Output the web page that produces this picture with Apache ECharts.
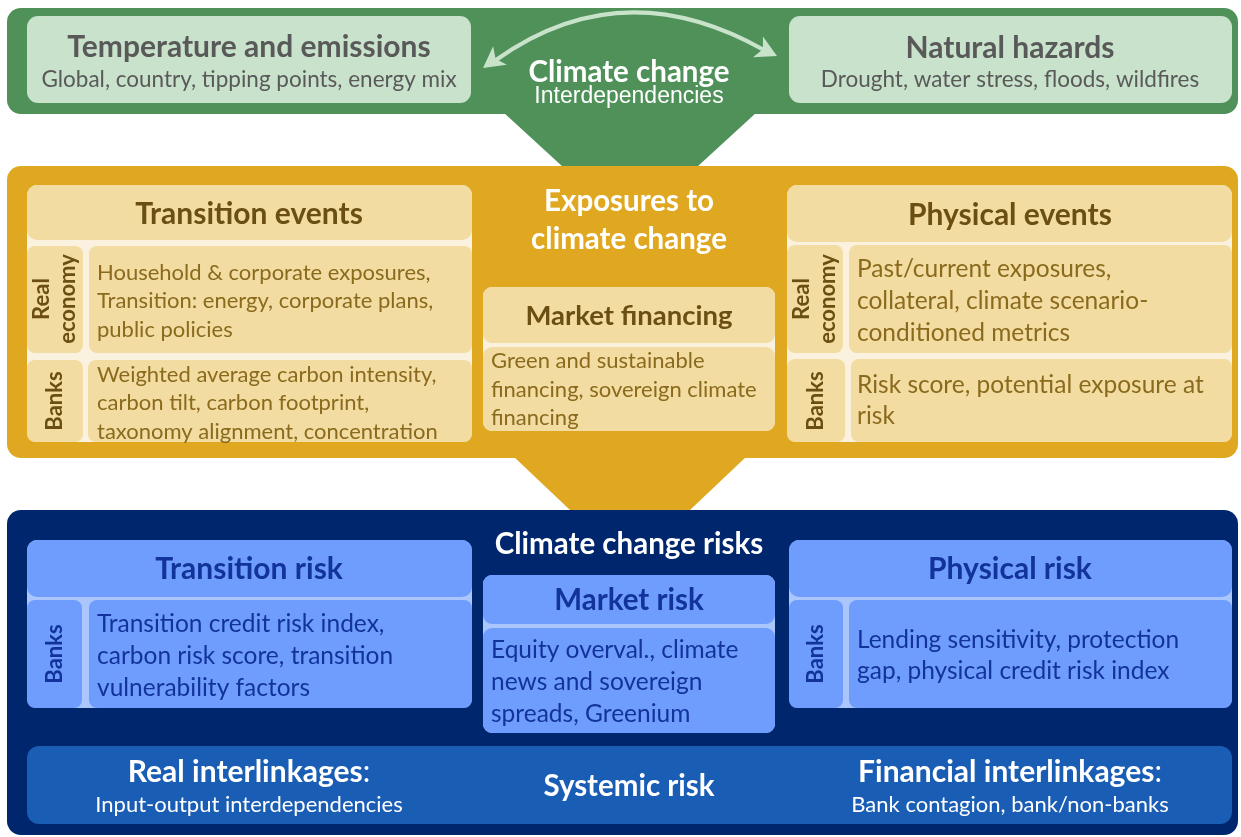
<!DOCTYPE html>
<html><head><meta charset="utf-8">
<script src="https://cdn.jsdelivr.net/npm/echarts@6/dist/echarts.min.js"></script>
<style>html,body{margin:0;padding:0;background:#fff}#c{width:1241px;height:837px}</style>
</head><body><div id="c"></div>
<script>
// ---- content (text only) ----
const driverTitles = ['Temperature and emissions', 'Natural hazards'];
const driverSubtitles = ['Global, country, tipping points, energy mix', 'Drought, water stress, floods, wildfires'];
const hubTitle = 'Climate change';
const hubSubtitle = 'Interdependencies';
const exposureTitle = 'Exposures to\nclimate change';
const eventTitles = ['Transition events', 'Physical events'];
const rowLabels = ['Real\neconomy', 'Banks'];
const transitionEventTexts = [
  'Household & corporate exposures,\nTransition: energy, corporate plans,\npublic policies',
  'Weighted average carbon intensity,\ncarbon tilt, carbon footprint,\ntaxonomy alignment, concentration'
];
const physicalEventTexts = [
  'Past/current exposures,\ncollateral, climate scenario-\nconditioned metrics',
  'Risk score, potential exposure at\nrisk'
];
const marketFinancing = ['Market financing', 'Green and sustainable\nfinancing, sovereign climate\nfinancing'];
const risksTitle = 'Climate change risks';
const riskTitles = ['Transition risk', 'Market risk', 'Physical risk'];
const riskTexts = [
  'Transition credit risk index,\ncarbon risk score, transition\nvulnerability factors',
  'Equity overval., climate\nnews and sovereign\nspreads, Greenium',
  'Lending sensitivity, protection\ngap, physical credit risk index'
];
const linkageTitles = ['Real interlinkages', 'Systemic risk', 'Financial interlinkages'];
const linkageSubtitles = ['Input-output interdependencies', '', 'Bank contagion, bank/non-banks'];

// ---- drawing ----
const FONT = 'Lato, "Open Sans", sans-serif';
const els = [];
function rect(x, y, w, h, r, fill) {
  els.push({type: 'rect', shape: {x, y, width: w, height: h, r}, style: {fill}, silent: true});
}
function poly(points, fill) {
  els.push({type: 'polygon', shape: {points}, style: {fill}, silent: true});
}
function text(x, y, str, size, color, opts) {
  opts = opts || {};
  els.push({
    type: 'text', x, y, rotation: opts.rotation || 0, silent: true,
    style: {
      text: str, fill: color,
      font: (opts.bold ? 'bold ' : '') + size + 'px ' + (opts.family || FONT),
      align: opts.align || 'center', verticalAlign: 'middle',
      textAlign: opts.align || 'center', textVerticalAlign: 'middle',
      lineHeight: opts.lh || Math.round(size * 1.3),
      rich: opts.rich
    }
  });
}

// Palette
const G = '#4f9159', GL = '#c9e2cb', GT = '#595959', GA = '#c8e3c9';
const O = '#e0a820', OL = '#f2dca2', OC = '#faf2df', OT = '#6b4f12', OB = '#8a6a1c';
const B = '#00266e', BL = '#6f9dfd', BC = '#aac6fc', BT = '#12339c', BS = '#1a5db5';

// Top green band
rect(7, 8, 1231, 106, 14, G);
poly([[503, 112], [757, 112], [697, 167], [563, 167]], G);
rect(27, 16, 444, 87, 11, GL);
rect(789, 16, 443, 87, 11, GL);
text(249, 47, driverTitles[0], 30, GT, {bold: true});
text(249, 80, driverSubtitles[0], 22.5, GT);
text(1010, 48, driverTitles[1], 30, GT, {bold: true});
text(1010, 80, driverSubtitles[1], 22.5, GT);
text(629, 72, hubTitle, 29.5, '#ffffff', {bold: true});
text(629, 97, hubSubtitle, 23, '#ffffff', {family: '"Liberation Sans", Arial, sans-serif'});
// curved double arrow
(function () {
  const p0 = [496, 60], c = [622, -30], p1 = [764, 50];
  els.push({type: 'bezierCurve', shape: {x1: p0[0], y1: p0[1], x2: p1[0], y2: p1[1], cpx1: c[0], cpy1: c[1]},
    style: {stroke: GA, lineWidth: 4, fill: null}, silent: true});
  function head(tip, dirFrom) {
    const dx = tip[0] - dirFrom[0], dy = tip[1] - dirFrom[1], L = Math.hypot(dx, dy);
    const ux = dx / L, uy = dy / L, len = 24, a = 0.5;
    const wing = function (s) {
      const cs = Math.cos(s), sn = Math.sin(s);
      return [tip[0] - len * (ux * cs - uy * sn), tip[1] - len * (ux * sn + uy * cs)];
    };
    const notch = [tip[0] - len * 0.65 * ux, tip[1] - len * 0.65 * uy];
    poly([tip, wing(a), notch, wing(-a)], GA);
  }
  head([483, 68], [502, 54]);
  head([777, 56], [756, 46]);
})();

// Orange band
rect(7, 166, 1231, 292, 14, O);
poly([[513, 456], [747, 456], [690, 510], [570, 510]], O);
// left group
rect(27, 185, 445, 257, 10, OC);
rect(27, 185, 445, 55, 10, OL);
rect(27, 246, 56, 107, 8, OL);
rect(89, 246, 383, 107, 8, OL);
rect(27, 360, 56, 82, 8, OL);
rect(88, 360, 384, 82, 8, OL);
text(249, 214, eventTitles[0], 30, OT, {bold: true});
text(55, 299, rowLabels[0], 22, OT, {bold: true, rotation: Math.PI / 2, lh: 26});
text(55, 401, rowLabels[1], 22, OT, {bold: true, rotation: Math.PI / 2});
text(97, 301, transitionEventTexts[0], 22, OB, {align: 'left', lh: 28.5});
text(97, 403, transitionEventTexts[1], 22, OB, {align: 'left', lh: 28.5});
// right group
rect(787, 185, 445, 257, 10, OC);
rect(787, 185, 445, 57, 10, OL);
rect(787, 245, 56, 108, 8, OL);
rect(849, 245, 383, 108, 8, OL);
rect(787, 359, 58, 83, 8, OL);
rect(851, 359, 381, 83, 8, OL);
text(1010, 215, eventTitles[1], 30, OT, {bold: true});
text(815, 299, rowLabels[0], 22, OT, {bold: true, rotation: Math.PI / 2, lh: 26});
text(816, 401, rowLabels[1], 22, OT, {bold: true, rotation: Math.PI / 2});
text(857, 301, physicalEventTexts[0], 24.5, OB, {align: 'left', lh: 32});
text(857, 401, physicalEventTexts[1], 24.5, OB, {align: 'left', lh: 31});
// center
text(629, 220, exposureTitle, 29.5, '#ffffff', {bold: true, lh: 38});
rect(483, 287, 292, 144, 9, OC);
rect(483, 287, 292, 56, 9, OL);
rect(483, 347, 292, 84, 9, OL);
text(629, 316, marketFinancing[0], 27.5, OT, {bold: true});
text(491, 389.5, marketFinancing[1], 22, OB, {align: 'left', lh: 28.5});

// Blue band
rect(7, 510, 1231, 325, 14, B);
text(629, 544, risksTitle, 29.5, '#ffffff', {bold: true});
// transition risk
rect(27, 540, 445, 168, 10, BC);
rect(27, 540, 445, 57, 10, BL);
rect(27, 600, 55, 108, 8, BL);
rect(89, 600, 383, 108, 8, BL);
text(249, 569, riskTitles[0], 30, BT, {bold: true});
text(55, 654, rowLabels[1], 22, BT, {bold: true, rotation: Math.PI / 2});
text(97, 656, riskTexts[0], 24.5, BT, {align: 'left', lh: 32});
// market risk
rect(483, 575, 292, 158, 9, BC);
rect(483, 575, 292, 49, 9, BL);
rect(483, 628, 292, 105, 9, BL);
text(629, 600, riskTitles[1], 29.5, BT, {bold: true});
text(491, 682, riskTexts[1], 24.5, BT, {align: 'left', lh: 32});
// physical risk
rect(789, 540, 443, 168, 10, BC);
rect(789, 540, 443, 57, 10, BL);
rect(789, 600, 54, 108, 8, BL);
rect(849, 600, 383, 108, 8, BL);
text(1010, 569, riskTitles[2], 30, BT, {bold: true});
text(816, 654, rowLabels[1], 22, BT, {bold: true, rotation: Math.PI / 2});
text(857, 655.5, riskTexts[2], 24.5, BT, {align: 'left', lh: 31});
// systemic band
rect(27, 746, 1205, 78, 12, BS);
const rich = {b: {font: 'bold 30px ' + FONT, fill: '#fff'}, n: {font: '30px ' + FONT, fill: '#fff'}};
text(249, 772, '{b|' + linkageTitles[0] + '}{n|:}', 30, '#ffffff', {rich});
text(249, 805, linkageSubtitles[0], 22, '#ffffff');
text(629, 786, linkageTitles[1], 29.5, '#ffffff', {bold: true});
text(1010, 772, '{b|' + linkageTitles[2] + '}{n|:}', 30, '#ffffff', {rich});
text(1010, 805, linkageSubtitles[2], 22, '#ffffff');

const chart = echarts.init(document.getElementById('c'), null, {renderer: 'canvas'});
chart.setOption({backgroundColor: '#ffffff', animation: false, graphic: {elements: els}});
</script></body></html>
